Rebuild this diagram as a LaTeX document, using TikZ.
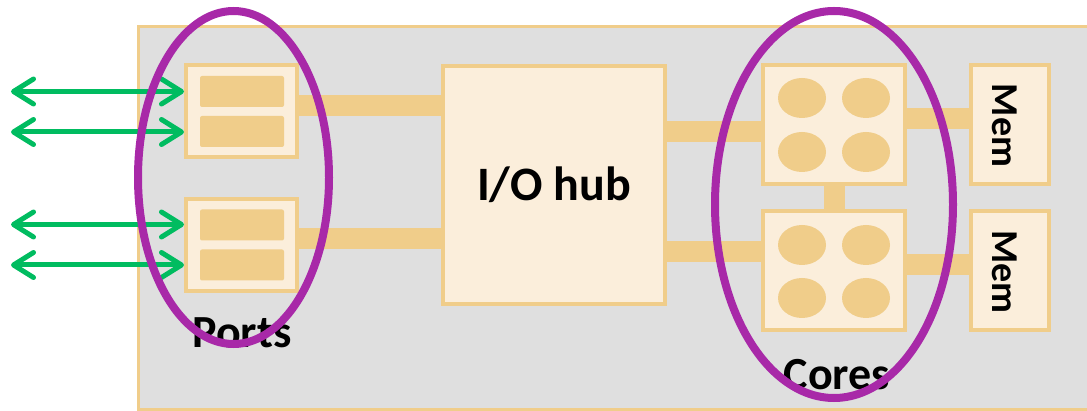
\documentclass[tikz,border=0pt]{standalone}
\usepackage{fontspec}
\setmainfont{Carlito}
\usetikzlibrary{arrows.meta,shapes.geometric}
\definecolor{panelgray}{HTML}{DFDFDF}
\definecolor{sand}{HTML}{F0CD8A}
\definecolor{cream}{HTML}{FBEEDB}
\definecolor{linkgreen}{HTML}{00BC60}
\definecolor{ringpurple}{HTML}{A829A8}
\pgfdeclarelayer{panel}
\pgfdeclarelayer{wiring}
\pgfsetlayers{panel,wiring,main}
\tikzset{
  unit/.style={draw=sand, fill=cream, line width=4pt, inner sep=0pt, rectangle},
  slot/.style={fill=sand, rounded corners=2pt, inner sep=0pt, minimum width=84pt, minimum height=31pt},
  corecell/.style={fill=sand, ellipse, inner sep=0pt, minimum width=48pt, minimum height=40pt},
  bus/.style={draw=sand, line width=21pt},
  barb/.tip={Straight Barb[length=20pt,width=25pt,line cap=round,line join=round]},
  link/.style={draw=linkgreen, line width=5pt, {barb}-{barb}},
  ring/.style={draw=ringpurple, line width=8pt},
  txt/.style={text=black, inner sep=0pt}
}
\begin{document}
\begin{tikzpicture}[x=1pt,y=-1pt]
\useasboundingbox (0,0) rectangle (1087,411);

% chip outline
\begin{pgfonlayer}{panel}
\draw[draw=sand, fill=panelgray, line width=3pt] (138.5,26.5) rectangle (1100,409.5);
\end{pgfonlayer}

% functional blocks
\node[unit, minimum width=111pt, minimum height=92pt] (p1) at (241.5,111) {};
\node[unit, minimum width=111pt, minimum height=92pt] (p2) at (241.5,245) {};
\node[unit, minimum width=222pt, minimum height=238pt, txt, font=\bfseries\fontsize{48}{48}\selectfont] (hub) at (554,185) {I/O hub};
\node[unit, minimum width=142pt, minimum height=119pt] (c1) at (834,124.5) {};
\node[unit, minimum width=142pt, minimum height=119pt] (c2) at (834,271) {};
\node[unit, minimum width=78pt, minimum height=119pt] (m1) at (1010,124.5) {};
\node[unit, minimum width=78pt, minimum height=119pt] (m2) at (1010,271) {};

% memory labels
\node[txt, rotate=-90, font=\bfseries\fontsize{38}{38}\selectfont] (mt1) at (1005,125.5) {Mem};
\node[txt, rotate=-90, font=\bfseries\fontsize{38}{38}\selectfont] (mt2) at (1005,272) {Mem};

% interconnect, below the blocks
\begin{pgfonlayer}{wiring}
\path[bus] (p1.east|-0,105.5) -- (hub.west|-0,105.5);
\path[bus] (p2.east|-0,238.5) -- (hub.west|-0,238.5);
\path[bus] (hub.east|-0,131.5) -- (c1.west|-0,131.5);
\path[bus] (hub.east|-0,251.5) -- (c2.west|-0,251.5);
\path[bus] (c1.east|-0,118.5) -- (m1.west|-0,118.5);
\path[bus] (c2.east|-0,265) -- (m2.west|-0,265);
\path[bus] (c1.south) -- (c2.north);
\end{pgfonlayer}

% port slots
\node[slot] (p1a) at (242,91.5) {};
\node[slot] (p1b) at (242,131.5) {};
\node[slot] (p2a) at (242,225) {};
\node[slot] (p2b) at (242,265) {};

% cores
\foreach \n/\x/\y in {a/802/98, b/866/98, c/802/152, d/866/152,
                      e/802/245, f/866/245, g/802/298, h/866/298}
  \node[corecell] (core\n) at (\x,\y) {};

% external links
\coordinate (e1) at (11,91.5);
\coordinate (e2) at (11,132);
\coordinate (e3) at (11,224.5);
\coordinate (e4) at (11,265);
\draw[link] (e1) -- (p1.west|-e1);
\draw[link] (e2) -- (p1.west|-e2);
\draw[link] (e3) -- (p2.west|-e3);
\draw[link] (e4) -- (p2.west|-e4);

% group labels
\node[txt, anchor=base, font=\bfseries\fontsize{46}{46}\selectfont] (ports) at (242,348) {Ports};
\node[txt, anchor=base, font=\bfseries\fontsize{46}{46}\selectfont] (cores) at (837,390) {Cores};

% group rings
\draw[ring] (233.5,177.5) ellipse [x radius=95.5, y radius=166.5];
\draw[ring] (834,204.5) ellipse [x radius=119, y radius=193.5];
\end{tikzpicture}
\end{document}
